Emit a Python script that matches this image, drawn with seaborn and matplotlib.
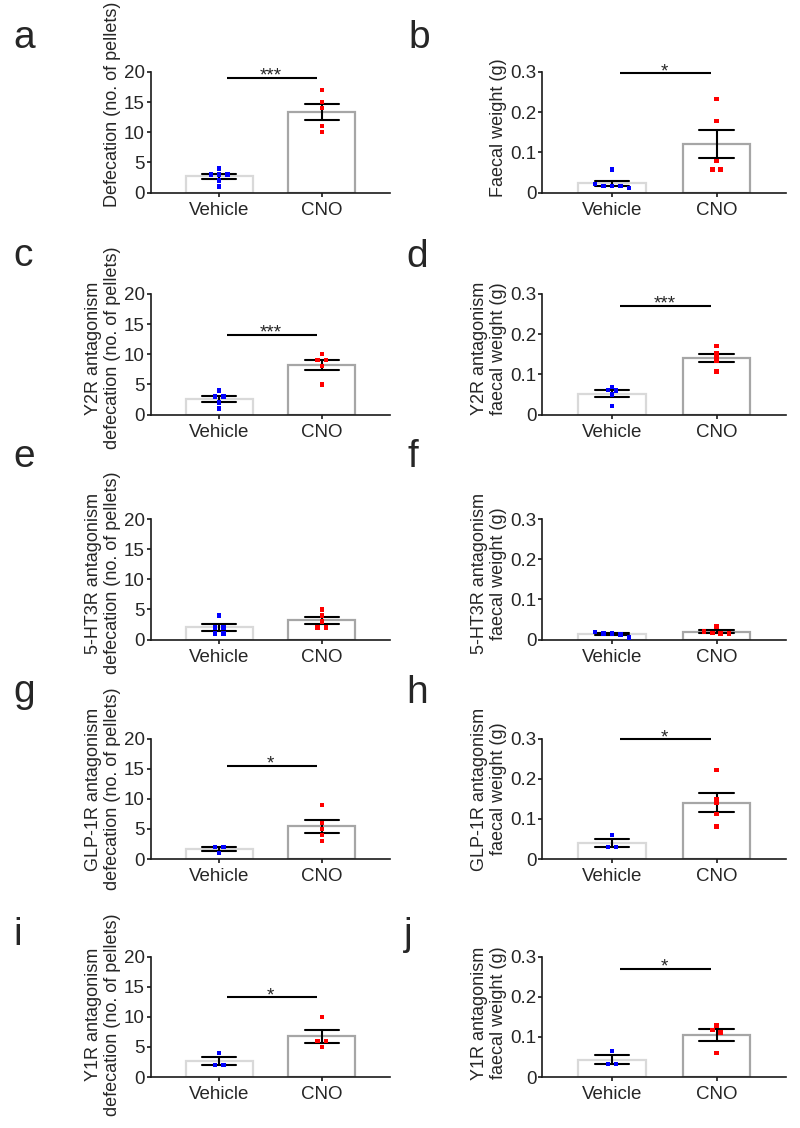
import numpy as np
import pandas as pd
import matplotlib
matplotlib.use("Agg")
import matplotlib.pyplot as plt
import seaborn as sns

# ---------------- data ----------------
groups = ["Vehicle", "CNO"]

a_vehicle = [4, 3, 3, 3, 2, 1]
a_cno = [17, 15, 14, 11, 10]
b_vehicle = [0.057, 0.021, 0.016, 0.016, 0.016, 0.011]
b_cno = [0.233, 0.178, 0.079, 0.057, 0.057]
c_vehicle = [4, 3, 3, 2, 1]
c_cno = [10, 9, 9, 8, 5]
d_vehicle = [0.069, 0.061, 0.060, 0.050, 0.021]
d_cno = [0.170, 0.152, 0.143, 0.134, 0.107]
e_vehicle = [4, 2, 2, 1, 1]
e_cno = [5, 4, 3, 2, 2]
f_vehicle = [0.018, 0.015, 0.015, 0.012, 0.005]
f_cno = [0.032, 0.020, 0.016, 0.015, 0.015]
g_vehicle = [2, 2, 1]
g_cno = [9, 6, 5, 4, 3]
h_vehicle = [0.060, 0.030, 0.030]
h_cno = [0.222, 0.149, 0.139, 0.112, 0.081]
i_vehicle = [4, 2, 2]
i_cno = [10, 6, 6, 5]
j_vehicle = [0.064, 0.033, 0.033]
j_cno = [0.128, 0.117, 0.111, 0.059]

letters = ["a", "b", "c", "d", "e", "f", "g", "h", "i", "j"]
ylabels = [
    "Defecation (no. of pellets)",
    "Faecal weight (g)",
    "Y2R antagonism\ndefecation (no. of pellets)",
    "Y2R antagonism\nfaecal weight (g)",
    "5-HT3R antagonism\ndefecation (no. of pellets)",
    "5-HT3R antagonism\nfaecal weight (g)",
    "GLP-1R antagonism\ndefecation (no. of pellets)",
    "GLP-1R antagonism\nfaecal weight (g)",
    "Y1R antagonism\ndefecation (no. of pellets)",
    "Y1R antagonism\nfaecal weight (g)",
]
sig_heights = [19.0, 0.297, 13.2, 0.27, None, None, 15.5, 0.298, 13.2, 0.27]
sig_stars = ["***", "*", "***", "***", None, None, "*", "*", "*", "*"]

count_ticks = [0, 5, 10, 15, 20]
count_ticklabels = ["0", "5", "10", "15", "20"]
weight_ticks = [0, 0.1, 0.2, 0.3]
weight_ticklabels = ["0", "0.1", "0.2", "0.3"]

vehicles = [a_vehicle, b_vehicle, c_vehicle, d_vehicle, e_vehicle,
            f_vehicle, g_vehicle, h_vehicle, i_vehicle, j_vehicle]
cnos = [a_cno, b_cno, c_cno, d_cno, e_cno, f_cno, g_cno, h_cno, i_cno, j_cno]

# ---------------- style ----------------
sns.set_style("ticks")
plt.rcParams["font.family"] = ["Liberation Sans", "DejaVu Sans"]

W, H = 800, 1128
fig = plt.figure(figsize=(W / 100, H / 100), dpi=100)

row_tops = [72, 294, 519, 738.5, 956.5]
row_h = 120.5
col_x = [(150.5, 390), (542, 786)]
label_y = [0.735, 0.54, 0.55, 0.55, 0.55, 0.55, 0.58, 0.58, 0.52, 0.53]
letter_pos = [(13, 48), (408, 48), (13, 266), (406, 267), (13, 467),
              (407, 467), (13, 702), (406, 703), (13, 945), (404, 945)]

veh_color = "#0000ff"
cno_color = "#ff0000"
veh_edge = "#d9d9d9"
cno_edge = "#a6a6a6"


def row_offsets(values, ymax, step=0.08, tol_frac=0.025):
    """GraphPad-like spreading of near-equal values into centred rows."""
    vals = np.asarray(values, float)
    order = np.argsort(-vals, kind="stable")
    offs = np.zeros(len(vals))
    tol = tol_frac * ymax
    rows, cur = [], [order[0]]
    for k in order[1:]:
        if vals[cur[-1]] - vals[k] < tol:
            cur.append(k)
        else:
            rows.append(cur)
            cur = [k]
    rows.append(cur)
    for r in rows:
        n = len(r)
        for m, k in enumerate(r):
            offs[k] = (m - (n - 1) / 2) * step
    return offs


for idx in range(10):
    row, col = idx // 2, idx % 2
    x0, x1 = col_x[col]
    top = row_tops[row]
    ax = fig.add_axes([x0 / W, 1 - (top + row_h) / H, (x1 - x0) / W, row_h / H])

    is_count = (col == 0)
    ymax = 20 if is_count else 0.3
    veh, cno = vehicles[idx], cnos[idx]
    df = pd.DataFrame({
        "group": ["Vehicle"] * len(veh) + ["CNO"] * len(cno),
        "value": list(veh) + list(cno),
    })

    sns.barplot(data=df, x="group", y="value", order=groups, errorbar="se",
                capsize=0.33, width=0.65, color="white", linewidth=1.6,
                edgecolor=cno_edge, saturation=1,
                err_kws={"color": "black", "linewidth": 1.5, "zorder": 2.5},
                ax=ax)
    ax.patches[0].set_edgecolor(veh_edge)
    ax.patches[1].set_edgecolor(cno_edge)

    for gi, (vals, colr) in enumerate([(veh, veh_color), (cno, cno_color)]):
        offs = row_offsets(vals, ymax)
        sns.scatterplot(x=gi + offs, y=np.asarray(vals, float), marker="s",
                        s=10, color=colr, edgecolor="none", linewidth=0,
                        zorder=3, ax=ax, legend=False)

    ax.set_xlim(-0.67, 1.665)
    ax.set_ylim(0, ymax)
    if is_count:
        ax.set_yticks(count_ticks)
        ax.set_yticklabels(count_ticklabels)
    else:
        ax.set_yticks(weight_ticks)
        ax.set_yticklabels(weight_ticklabels)
    ax.set_xticks([0, 1])
    ax.set_xticklabels(groups)
    ax.set_xlabel("")
    ax.set_ylabel(ylabels[idx], fontsize=13, labelpad=2)
    ax.yaxis.label.set_y(label_y[idx])

    for side in ["top", "right"]:
        ax.spines[side].set_visible(False)
    for side in ["left", "bottom"]:
        ax.spines[side].set_linewidth(1.2)
        ax.spines[side].set_color("#1a1a1a")
    ax.tick_params(axis="y", direction="out", length=3, width=1.2,
                   labelsize=13.5, pad=1, color="#1a1a1a")
    ax.tick_params(axis="x", direction="out", length=3, width=1.2,
                   labelsize=13.5, pad=3.5, color="#1a1a1a")

    if sig_heights[idx] is not None:
        yv = sig_heights[idx]
        ax.plot([0.08, 0.95], [yv, yv], color="black", lw=1.5,
                clip_on=False, solid_capstyle="butt")
        ax.annotate(sig_stars[idx], xy=(0.5, yv), xytext=(0, -2),
                    textcoords="offset points", ha="center", va="baseline",
                    fontsize=13.5, annotation_clip=False)

    lx, ly = letter_pos[idx]
    fig.text(lx / W, 1 - ly / H, letters[idx], fontsize=28,
             ha="left", va="baseline")

fig.savefig("out.png", dpi=100, facecolor="white")
